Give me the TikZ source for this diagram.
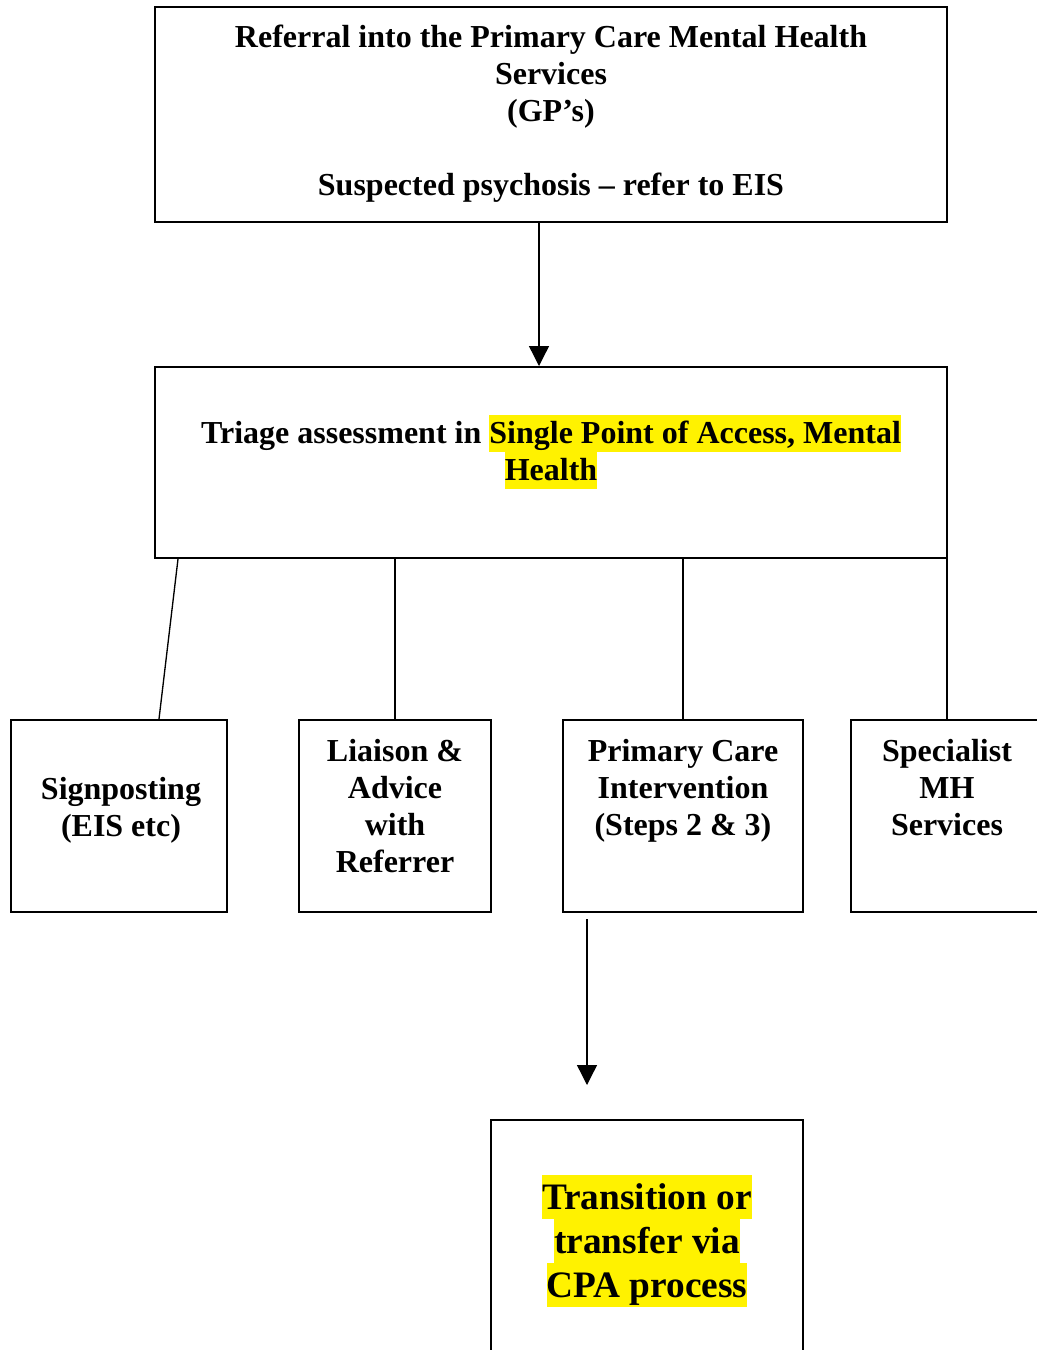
\documentclass[tikz,border=0pt]{standalone}
\usepackage{fontspec}
\setmainfont{Liberation Serif}
\usetikzlibrary{arrows.meta,calc}
\tikzset{%
    Dbox/.style={draw, line width=1.5pt, inner sep=0pt},
    Dtext/.style={font=\bfseries\fontsize{24}{27.75}\selectfont, align=center,
        inner sep=0pt, anchor=north, execute at begin node=\hlstrut},
    Dbigtext/.style={Dtext, font=\bfseries\fontsize{28}{33}\selectfont},
    Dline/.style={line width=1pt},
    Darrow/.style={Dline, -{Triangle[length=15pt,width=15pt]}}
}
% strut that spans one line, used for the yellow marker
\newcommand{\hlstrut}{\rule[-0.22\baselineskip]{0pt}{\baselineskip}}
\newcommand{\hlt}[1]{{\setlength{\fboxsep}{0pt}\colorbox{yellow}{\hlstrut#1}}}
\begin{document}
\begin{tikzpicture}[x=0.75pt,y=-0.75pt]
    \useasboundingbox (0,0) rectangle (1036,1350);

    % boxes
    \node [Dbox, minimum width=594pt, minimum height=161.25pt] (Nref) at (551,114.5) {};
    \node [Dbox, minimum width=594pt, minimum height=143.25pt] (Ntri) at (551,462.5) {};
    \node [Dbox, minimum width=162pt, minimum height=144pt] (Nsign) at (119,816) {};
    \node [Dbox, minimum width=144pt, minimum height=144pt] (Nliai) at (395,816) {};
    \node [Dbox, minimum width=180pt, minimum height=144pt] (Nprim) at (683,816) {};
    \node [Dbox, minimum width=144pt, minimum height=144pt] (Nspec) at (947,816) {};
    \node [Dbox, minimum width=234pt, minimum height=225pt] (Ncpa) at (647,1270) {};

    % texts
    \node [Dtext] (Tref) at (551,25.1)
        {Referral into the Primary Care Mental Health\\Services\\(GP’s)\\[27.75pt]Suspected psychosis – refer to EIS};
    \node [Dtext] (Ttri) at (551,414.6)
        {Triage assessment in \hlt{Single Point of Access, Mental}\\\hlt{Health}};
    \node [Dtext] (Tsign) at (121,777.1) {Signposting\\(EIS etc)};
    \node [Dtext] (Tliai) at (395,739.1) {Liaison \&\\Advice\\with\\Referrer};
    \node [Dtext] (Tprim) at (683,739.1) {Primary Care\\Intervention\\(Steps 2 \& 3)};
    \node [Dtext] (Tspec) at (947,739.1) {Specialist\\MH\\Services};
    \node [Dbigtext] (Tcpa) at (647,1174.5)
        {\hlt{Transition or}\\\hlt{transfer via}\\\hlt{CPA process}};

    % connectors
    \draw [Darrow] ($(Nref.south)+(-12,0)$) -- ($(Ntri.north)+(-12,0)$);
    \draw [Dline] ($(Ntri.south west)+(24,0)$) -- ($(Nsign.north)+(40,0)$);
    \draw [Dline] (Nliai.north |- Ntri.south) -- (Nliai.north);
    \draw [Dline] (Nprim.north |- Ntri.south) -- (Nprim.north);
    \draw [Dline] (Nspec.north |- Ntri.south) -- (Nspec.north);
    \coordinate (Ccpa) at ($(Ncpa.north)+(-60,-34)$);
    \draw [Darrow] ($(Ccpa |- Nprim.south)+(0,6)$) -- (Ccpa);
\end{tikzpicture}
\end{document}
